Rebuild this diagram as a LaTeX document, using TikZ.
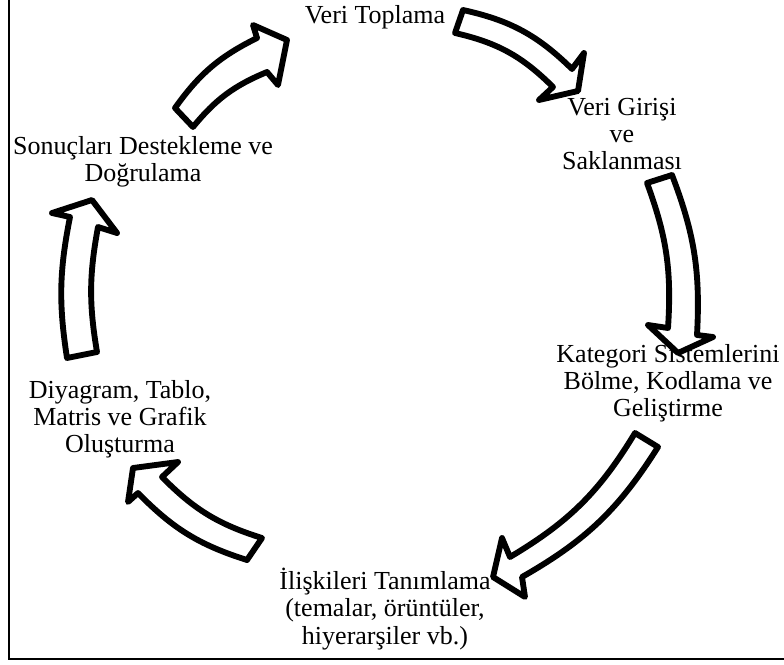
\documentclass[tikz,border=0pt]{standalone}
\usepackage{fontspec}
\setmainfont{Liberation Serif}
\begin{document}
\begin{tikzpicture}[x=0.75pt,y=-0.75pt,
  blockarrow/.style={draw=black, line width=4.4pt, fill=white, line join=round},
  lbl/.style={align=center, inner sep=0pt, font=\fontsize{19.5}{20.4}\selectfont},
  frameline/.style={draw=black, line width=1.5pt}]
\useasboundingbox (0,0) rectangle (784,664);
\fill[white] (0,0) rectangle (784,664);
% frame (left and bottom)
\draw[frameline] (9,-2) -- (9,659) -- (786,659);

% labels
\node[lbl] (toplama) at (375,17) {Veri Toplama};
\node[lbl] (giris) at (622,134) {Veri Girişi\\ve\\Saklanması};
\node[lbl] (kategori) at (668,383) {Kategori Sistemlerini\\Bölme, Kodlama ve\\Geliştirme};
\node[lbl] (iliski) at (385,609) {İlişkileri Tanımlama\\(temalar, örüntüler,\\hiyerarşiler vb.)};
\node[lbl] (diyagram) at (120,419) {Diyagram, Tablo,\\Matris ve Grafik\\Oluşturma};
\node[lbl] (sonuc) at (143,162) {Sonuçları Destekleme ve\\Doğrulama};

% arrow 1: Veri Toplama -> Veri Girisi
\draw[blockarrow] (455,33) -- (463,10) to[bend left=16] (572,69) -- (584,53) -- (578,91)
  -- (539,100) -- (553,87) to[bend right=16] (455,33) -- cycle;
% arrow 2: Veri Girisi -> Kategori
\draw[blockarrow] (647,183) -- (672,175) to[bend left=12] (697,335) -- (713,337) -- (678,353)
  -- (648,325) -- (668,328) to[bend right=12] (647,183) -- cycle;
% arrow 3: Kategori -> Iliskiler
\draw[blockarrow] (635,433) -- (658,447) to[bend left=14] (522,577) -- (525,597) -- (493,577)
  -- (502,538) -- (510,557) to[bend right=14] (635,433) -- cycle;
% arrow 4: Iliskiler -> Diyagram
\draw[blockarrow] (262,538) -- (247,560) to[bend left=14] (138,493) -- (128,502) -- (133,468)
  -- (178,462) -- (162,477) to[bend right=14] (262,538) -- cycle;
% arrow 5: Diyagram -> Sonuclar
\draw[blockarrow] (97,352) -- (67,358) to[bend left=10] (70,217) -- (52,213) -- (92,200)
  -- (117,233) -- (98,227) to[bend right=10] (97,352) -- cycle;
% arrow 6: Sonuclar -> Veri Toplama
\draw[blockarrow] (193,127) -- (175,108) to[bend left=14] (257,38) -- (253,25) -- (287,40)
  -- (278,85) -- (267,72) to[bend right=14] (193,127) -- cycle;
\end{tikzpicture}
\end{document}
